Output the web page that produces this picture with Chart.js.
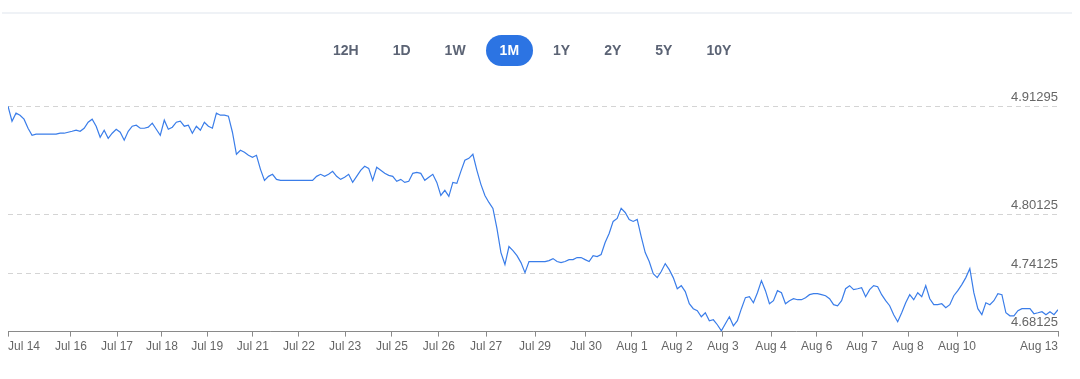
<!DOCTYPE html>
<html>
<head>
<meta charset="utf-8">
<script src="https://cdn.jsdelivr.net/npm/chart.js@4"></script>
<style>
  html, body { margin: 0; padding: 0; background: #ffffff; }
  body { width: 1080px; height: 379px; position: relative; overflow: hidden; font-family: "Liberation Sans", Arial, sans-serif; }
  #topline { position: absolute; left: 2px; top: 12px; width: 1070px; height: 2px; background: #eff2f6; }
  #ranges { position: absolute; left: 319px; top: 35px; display: flex; gap: 6px; }
  #ranges span { display: block; height: 31px; line-height: 31px; padding: 0 14px; border-radius: 16px; font-weight: bold; font-size: 14px; color: #5b6374; }
  #ranges span.active { background: #2c74e3; color: #ffffff; }
  #wrap { position: absolute; left: 0; top: 0; width: 1080px; height: 379px; }
</style>
</head>
<body>
<div id="topline"></div>
<div id="wrap"><canvas id="c" width="1080" height="379"></canvas></div>
<div id="ranges"></div>
<script>
const rangeButtons = ["12H", "1D", "1W", "1M", "1Y", "2Y", "5Y", "10Y"];
const activeRange = "1M";

const yTickValues = [4.91295, 4.80125, 4.74125, 4.68125];
const xTickLabels = ["Jul 14","Jul 16","Jul 17","Jul 18","Jul 19","Jul 21","Jul 22","Jul 23","Jul 25","Jul 26","Jul 27","Jul 29","Jul 30","Aug 1","Aug 2","Aug 3","Aug 4","Aug 6","Aug 7","Aug 8","Aug 10","Aug 13"];
const xTickIndex = [0, 15.7, 27.2, 38.4, 49.7, 61.1, 72.6, 84.1, 95.8, 107.5, 119.3, 131.5, 144.2, 155.7, 166.9, 178.4, 190.4, 201.8, 213.1, 224.6, 236.8, 262];

const rates = [
4.9128,4.8973,4.9056,4.9035,4.8994,4.8901,4.8829,4.8840,4.8840,4.8840,
4.8840,4.8840,4.8840,4.8850,4.8850,4.8860,4.8870,4.8881,4.8870,4.8901,
4.8963,4.8994,4.8922,4.8809,4.8881,4.8798,4.8850,4.8891,4.8860,4.8778,
4.8870,4.8922,4.8932,4.8901,4.8901,4.8912,4.8953,4.8891,4.8829,4.8984,
4.8891,4.8912,4.8963,4.8973,4.8922,4.8932,4.8850,4.8922,4.8881,4.8963,
4.8922,4.8901,4.9056,4.9035,4.9035,4.9025,4.8860,4.8634,4.8675,4.8654,
4.8623,4.8603,4.8623,4.8479,4.8366,4.8407,4.8428,4.8376,4.8366,4.8366,
4.8366,4.8366,4.8366,4.8366,4.8366,4.8366,4.8366,4.8407,4.8428,4.8407,
4.8428,4.8458,4.8407,4.8376,4.8397,4.8428,4.8345,4.8407,4.8469,4.8510,
4.8489,4.8366,4.8500,4.8469,4.8438,4.8417,4.8407,4.8356,4.8376,4.8345,
4.8356,4.8438,4.8448,4.8438,4.8366,4.8397,4.8428,4.8345,4.8211,4.8263,
4.8201,4.8345,4.8335,4.8458,4.8572,4.8592,4.8634,4.8469,4.8325,4.8211,
4.8139,4.8078,4.7872,4.7624,4.7501,4.7686,4.7645,4.7593,4.7521,4.7418,
4.7532,4.7532,4.7532,4.7532,4.7532,4.7542,4.7562,4.7532,4.7521,4.7532,
4.7552,4.7552,4.7573,4.7573,4.7552,4.7532,4.7593,4.7583,4.7604,4.7727,
4.7820,4.7944,4.7975,4.8078,4.8036,4.7964,4.7944,4.7964,4.7789,4.7624,
4.7532,4.7408,4.7367,4.7429,4.7511,4.7449,4.7367,4.7253,4.7284,4.7223,
4.7099,4.7048,4.7027,4.6965,4.7006,4.6924,4.6934,4.6883,4.6821,4.6893,
4.6965,4.6872,4.6924,4.7048,4.7161,4.7171,4.7109,4.7212,4.7336,4.7233,
4.7099,4.7130,4.7233,4.7212,4.7099,4.7130,4.7150,4.7140,4.7140,4.7161,
4.7192,4.7202,4.7202,4.7192,4.7181,4.7150,4.7089,4.7078,4.7130,4.7253,
4.7284,4.7243,4.7253,4.7264,4.7171,4.7243,4.7284,4.7274,4.7192,4.7130,
4.7078,4.6986,4.6914,4.7006,4.7109,4.7192,4.7140,4.7212,4.7171,4.7284,
4.7150,4.7089,4.7089,4.7099,4.7058,4.7089,4.7181,4.7233,4.7295,4.7367,
4.7460,4.7212,4.7048,4.6986,4.7109,4.7089,4.7130,4.7202,4.7192,4.7006,
4.6975,4.6975,4.7027,4.7048,4.7048,4.7048,4.6996,4.7006,4.7017,4.6986,
4.7017,4.6986,4.7037
];

const rangesEl = document.getElementById('ranges');
rangeButtons.forEach(r => {
  const s = document.createElement('span');
  s.textContent = r;
  if (r === activeRange) s.className = 'active';
  rangesEl.appendChild(s);
});

const points = rates.map((v, i) => ({ x: i, y: v }));

new Chart(document.getElementById('c'), {
  type: 'line',
  data: {
    datasets: [{
      data: points,
      borderColor: '#3a7de9',
      borderWidth: 1.2,
      pointRadius: 0,
      tension: 0,
      fill: false
    }]
  },
  options: {
    responsive: false,
    animation: false,
    devicePixelRatio: 1,
    layout: { padding: { left: 8, right: 22, top: 106, bottom: 22 } },
    plugins: { legend: { display: false }, tooltip: { enabled: false } },
    scales: {
      x: {
        type: 'linear',
        min: 0,
        max: rates.length - 1,
        afterBuildTicks: (scale) => { scale.ticks = xTickIndex.map(v => ({ value: v })); },
        grid: { drawOnChartArea: false, drawTicks: true, tickLength: 5, color: '#8a8a8a' },
        border: { display: true, color: '#8a8a8a', width: 1 },
        ticks: {
          autoSkip: false,
          maxRotation: 0,
          align: 'inner',
          padding: 3,
          color: '#666666',
          font: { family: '"Liberation Sans", Arial, sans-serif', size: 12 },
          callback: (v, i) => xTickLabels[i]
        }
      },
      y: {
        type: 'linear',
        position: 'right',
        min: 4.68125,
        max: 4.91295,
        afterBuildTicks: (scale) => { scale.ticks = yTickValues.map(v => ({ value: v })); },
        grid: { drawTicks: false, color: '#d4d4d4', lineWidth: 1 },
        border: { display: false, dash: [5, 4] },
        ticks: {
          mirror: true,
          padding: 0,
          labelOffset: -9,
          color: '#666666',
          font: { family: '"Liberation Sans", Arial, sans-serif', size: 13 },
          callback: (v) => Number(v).toFixed(5)
        }
      }
    }
  }
});
</script>
</body>
</html>
